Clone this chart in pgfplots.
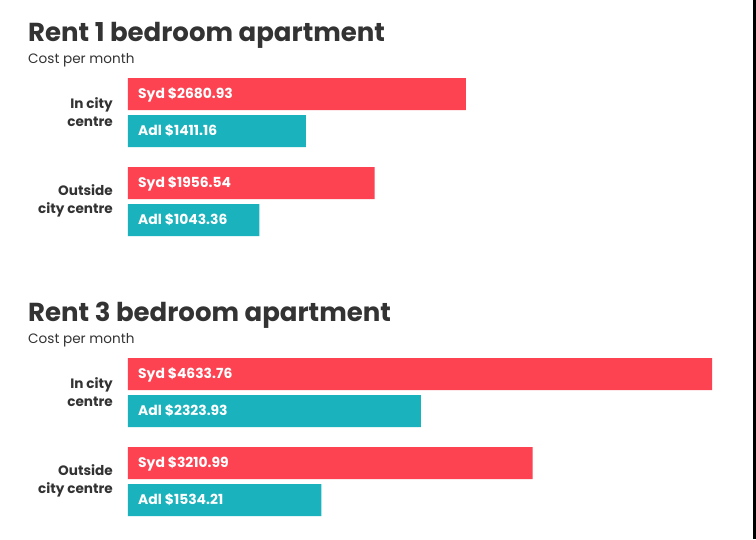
\documentclass[border=0pt]{standalone}
\usepackage{pgfplots}
\pgfplotsset{compat=1.18}
\usepackage{fontspec}
\setmainfont{Poppins}
\definecolor{sydred}{RGB}{253,67,82}
\definecolor{adlteal}{RGB}{26,178,188}
\definecolor{darktxt}{RGB}{51,51,51}
\tikzset{
  lbl/.style={anchor=mid west, text=white, inner sep=0pt, xshift=10pt, yshift=-1.5pt, font=\fontsize{13.9}{16}\selectfont\bfseries},
  cat/.style={anchor=east, align=right, text=darktxt, inner sep=0pt, xshift=-15pt, font=\fontsize{13.6}{18}\selectfont\bfseries},
}
\begin{document}
\begin{tikzpicture}
\path[use as bounding box, fill=white] (0,0) rectangle (756pt,-539pt);
\fill[black] (753pt,0) rectangle (756pt,-539pt);
% titles
\node[anchor=base west, inner sep=0pt, text=darktxt, font=\fontsize{26}{30}\selectfont\bfseries] at (28pt,-41pt) {Rent 1 bedroom apartment};
\node[anchor=base west, inner sep=0pt, text=darktxt, font=\fontsize{13.6}{16}\selectfont] at (28pt,-63pt) {Cost per month};
\node[anchor=base west, inner sep=0pt, text=darktxt, font=\fontsize{26}{30}\selectfont\bfseries] at (28pt,-321pt) {Rent 3 bedroom apartment};
\node[anchor=base west, inner sep=0pt, text=darktxt, font=\fontsize{13.6}{16}\selectfont] at (28pt,-343pt) {Cost per month};
\begin{axis}[
  at={(128pt,-78pt)}, anchor=north west,
  scale only axis, width=600pt, height=438pt,
  xmin=0, xmax=4760.7, ymin=78, ymax=516, y dir=reverse,
  axis lines=none, ticks=none, clip=false,
  xbar, bar width=32pt, bar shift=0pt,
  every axis plot/.append style={draw=none},
]
\addplot[fill=sydred] coordinates {(2680.93,94) (1956.54,183) (4633.76,374) (3210.99,463)};
\addplot[fill=adlteal] coordinates {(1411.16,131) (1043.36,220) (2323.93,411) (1534.21,500)};
\node[lbl] at (axis cs:0,94) {Syd \$2680.93};
\node[lbl] at (axis cs:0,131) {Adl \$1411.16};
\node[lbl] at (axis cs:0,183) {Syd \$1956.54};
\node[lbl] at (axis cs:0,220) {Adl \$1043.36};
\node[lbl] at (axis cs:0,374) {Syd \$4633.76};
\node[lbl] at (axis cs:0,411) {Adl \$2323.93};
\node[lbl] at (axis cs:0,463) {Syd \$3210.99};
\node[lbl] at (axis cs:0,500) {Adl \$1534.21};
\node[cat] at (axis cs:0,112) {In city\\centre};
\node[cat] at (axis cs:0,201) {Outside\\city centre};
\node[cat] at (axis cs:0,392) {In city\\centre};
\node[cat] at (axis cs:0,481) {Outside\\city centre};
\end{axis}
\end{tikzpicture}
\end{document}
